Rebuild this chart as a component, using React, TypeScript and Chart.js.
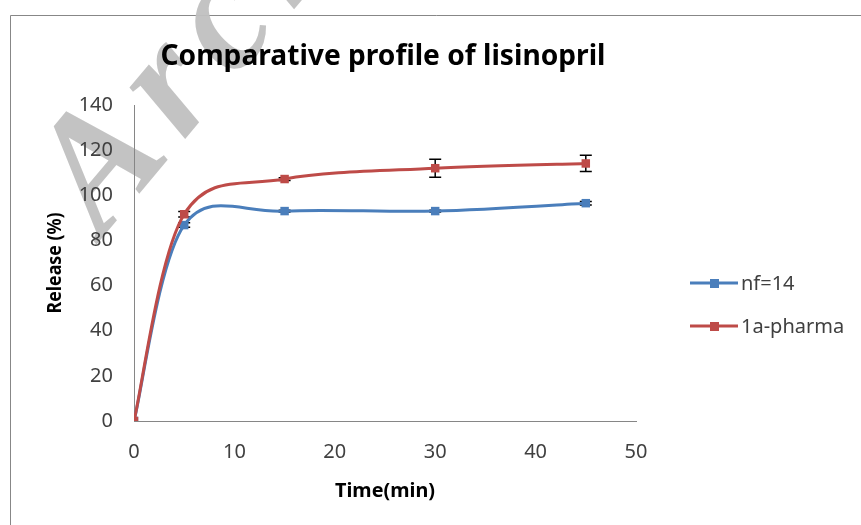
import React, { useEffect, useRef } from "react";
import { Chart, registerables } from "chart.js";

Chart.register(...registerables);

const chartTitle = "Comparative profile of lisinopril";
const xAxisTitle = "Time(min)";
const yAxisTitle = "Release (%)";
const watermarkText = "Archive of SID";

const timePoints = [0, 5, 15, 30, 45];
const nf14Values = [0, 86.8, 93.0, 93.0, 96.5];
const nf14Errors = [0, 1.0, 0.4, 0.4, 0.8];
const pharmaValues = [0, 91.6, 107.2, 112.0, 114.1];
const pharmaErrors = [0, 1.2, 0.6, 4.0, 3.6];

const seriesLabels = ["nf=14", "1a-pharma"];
const seriesColors = ["#4a7ebb", "#be4b48"];

const xMin = 0;
const xMax = 50;
const xStep = 10;
const yMin = 0;
const yMax = 140;
const yStep = 20;

function fitText(ctx: CanvasRenderingContext2D, text: string, cx: number, y: number, font: string, width: number) {
  ctx.save();
  ctx.font = font;
  const w = ctx.measureText(text).width;
  const s = width / w;
  ctx.translate(cx, y);
  ctx.scale(s, 1);
  ctx.textAlign = "center";
  ctx.fillText(text, 0, 0);
  ctx.restore();
}

// Excel-like smoothing: Catmull-Rom control points (1/6) computed from the scaled point positions
const smoothPlugin = {
  id: "excelSmooth",
  afterDatasetsUpdate(chart: any) {
    chart.data.datasets.forEach((_d: any, i: number) => {
      const meta = chart.getDatasetMeta(i);
      const pts = meta.data;
      const n = pts.length;
      for (let k = 0; k < n; k++) {
        const prev = pts[Math.max(0, k - 1)];
        const next = pts[Math.min(n - 1, k + 1)];
        const p = pts[k];
        const dx = (next.x - prev.x) / 6;
        const dy = (next.y - prev.y) / 6;
        p.cp1x = p.x - dx;
        p.cp1y = p.y - dy;
        p.cp2x = p.x + dx;
        p.cp2y = p.y + dy;
      }
      if (meta.dataset) meta.dataset._pointsUpdated = true;
    });
  },
};

const decorPlugin = {
  id: "decor",
  beforeDraw(chart: any) {
    const ctx = chart.ctx as CanvasRenderingContext2D;
    ctx.save();
    ctx.fillStyle = "#ffffff";
    ctx.fillRect(0, 0, chart.width, chart.height);
    ctx.strokeStyle = "#878787";
    ctx.lineWidth = 1;
    ctx.beginPath();
    ctx.moveTo(10.5, chart.height + 2);
    ctx.lineTo(10.5, 15.5);
    ctx.lineTo(chart.width + 2, 15.5);
    ctx.stroke();
    // watermark
    ctx.fillStyle = "rgba(192,192,192,0.95)";
    ctx.font = "italic bold 165px 'Liberation Serif'";
    (ctx as any).letterSpacing = "16px";
    ctx.translate(102, 238);
    ctx.rotate(-50 * Math.PI / 180);
    ctx.textAlign = "left";
    ctx.textBaseline = "alphabetic";
    ctx.fillText(watermarkText, 0, 0);
    ctx.restore();
  },
  beforeDatasetsDraw(chart: any) {
    const ctx = chart.ctx as CanvasRenderingContext2D;
    const yScale = chart.scales.y;
    const errs = [nf14Errors, pharmaErrors];
    const vals = [nf14Values, pharmaValues];
    ctx.save();
    ctx.strokeStyle = "#000000";
    ctx.lineWidth = 1.5;
    chart.data.datasets.forEach((_d: any, i: number) => {
      const meta = chart.getDatasetMeta(i);
      meta.data.forEach((pt: any, j: number) => {
        const e = errs[i][j];
        if (!e) return;
        const top = yScale.getPixelForValue(vals[i][j] + e);
        const bot = yScale.getPixelForValue(vals[i][j] - e);
        ctx.beginPath();
        ctx.moveTo(pt.x, top);
        ctx.lineTo(pt.x, bot);
        ctx.moveTo(pt.x - 6, top);
        ctx.lineTo(pt.x + 6, top);
        ctx.moveTo(pt.x - 6, bot);
        ctx.lineTo(pt.x + 6, bot);
        ctx.stroke();
      });
    });
    ctx.restore();
  },
  afterDraw(chart: any) {
    const ctx = chart.ctx as CanvasRenderingContext2D;
    const area = chart.chartArea;
    ctx.save();
    ctx.fillStyle = "#000000";
    ctx.textBaseline = "alphabetic";
    fitText(ctx, chartTitle, (area.left + area.right) / 2 - 2, 65, "bold 28px 'Noto Sans'", 445);
    fitText(ctx, xAxisTitle, (area.left + area.right) / 2, 497, "bold 20px 'Noto Sans'", 100);
    ctx.save();
    ctx.translate(61, (area.top + area.bottom) / 2);
    ctx.rotate(-Math.PI / 2);
    fitText(ctx, yAxisTitle, 0, 0, "bold 20px 'Noto Sans'", 101);
    ctx.restore();
    const ds = chart.data.datasets;
    const legendY = [283, 326];
    ds.forEach((d: any, i: number) => {
      const y = legendY[i];
      ctx.strokeStyle = d.borderColor;
      ctx.lineWidth = 3;
      ctx.beginPath();
      ctx.moveTo(690, y);
      ctx.lineTo(738, y);
      ctx.stroke();
      ctx.fillStyle = d.borderColor;
      ctx.fillRect(710, y - 4, 9, 9);
      ctx.fillStyle = "#404040";
      ctx.font = "20px 'Noto Sans'";
      ctx.textAlign = "left";
      ctx.textBaseline = "middle";
      ctx.fillText(d.label, 741, y + 1);
    });
    ctx.restore();
  },
};

export default function App() {
  const ref = useRef<HTMLCanvasElement>(null);
  useEffect(() => {
    if (!ref.current) return;
    const mk = (vals: number[], i: number, order: number) => ({
      label: seriesLabels[i],
      data: timePoints.map((t, k) => ({ x: t, y: vals[k] })),
      borderColor: seriesColors[i],
      backgroundColor: seriesColors[i],
      borderWidth: 3,
      pointStyle: "rect" as const,
      pointRadius: 6,
      pointBorderWidth: 0,
      tension: 0.4,
      fill: false,
      order,
    });
    const chart = new Chart(ref.current, {
      type: "line",
      data: {
        datasets: [mk(nf14Values, 0, 1), mk(pharmaValues, 1, 0)],
      },
      options: {
        responsive: false,
        animation: false,
        devicePixelRatio: 1,
        layout: { padding: { left: 0, right: 225, top: 105, bottom: 0 } },
        plugins: {
          legend: { display: false },
          title: { display: false },
          tooltip: { enabled: false },
        },
        scales: {
          x: {
            type: "linear",
            min: xMin,
            max: xMax,
            grid: { display: false, drawTicks: false },
            border: { display: true, color: "#868686", width: 1 },
            ticks: {
              stepSize: xStep,
              padding: 19,
              color: "#404040",
              font: { family: "'Noto Sans'", size: 20 },
              maxRotation: 0,
            },
            afterFit: (s: any) => {
              s.height = 104;
            },
          },
          y: {
            type: "linear",
            min: yMin,
            max: yMax,
            grid: { display: false, drawTicks: false },
            border: { display: true, color: "#868686", width: 1 },
            ticks: {
              stepSize: yStep,
              padding: 21,
              color: "#404040",
              font: { family: "'Noto Sans'", size: 20 },
            },
            afterFit: (s: any) => {
              s.width = 134;
            },
          },
        },
      },
      plugins: [smoothPlugin, decorPlugin],
    });
    return () => chart.destroy();
  }, []);
  return (
    <div style={{ position: "absolute", left: 0, top: 0, width: 861, height: 525 }}>
      <canvas ref={ref} width={861} height={525} style={{ width: 861, height: 525, display: "block" }} />
    </div>
  );
}
